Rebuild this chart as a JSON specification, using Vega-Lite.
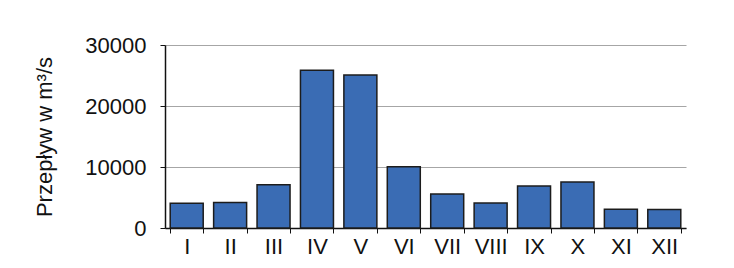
{
  "$schema": "https://vega.github.io/schema/vega-lite/v6.json",
  "width": 521,
  "height": 183,
  "autosize": {"type": "none"},
  "padding": {"left": 165, "top": 45, "right": 48, "bottom": 40},
  "background": "white",
  "config": {"view": {"stroke": null}, "font": "Liberation Sans"},
  "data": {"values": [
    {"m": "I", "v": 4050},
    {"m": "II", "v": 4200},
    {"m": "III", "v": 7100},
    {"m": "IV", "v": 25850},
    {"m": "V", "v": 25080},
    {"m": "VI", "v": 10050},
    {"m": "VII", "v": 5570},
    {"m": "VIII", "v": 4100},
    {"m": "IX", "v": 6900},
    {"m": "X", "v": 7540},
    {"m": "XI", "v": 3070},
    {"m": "XII", "v": 3020}
  ]},
  "mark": {"type": "bar", "fill": "#3a6cb4", "stroke": "#1c1c1c", "strokeWidth": 1.5},
  "encoding": {
    "x": {
      "field": "m", "type": "nominal", "sort": null,
      "scale": {"paddingInner": 0.24, "paddingOuter": 0.12},
      "axis": {
        "title": null, "labelAngle": 0, "labelFontSize": 22, "labelColor": "#111",
        "domainColor": "#111", "domainWidth": 1.5, "tickColor": "#111", "tickBand": "extent",
        "tickSize": 5, "labelPadding": 3, "grid": false
      }
    },
    "y": {
      "field": "v", "type": "quantitative",
      "scale": {"domain": [0, 30000]},
      "axis": {
        "title": "Przepływ w m³/s", "titleFontSize": 22, "titleFontWeight": "normal", "titleColor": "#111",
        "titlePadding": 28,
        "values": [0, 10000, 20000, 30000], "format": "d",
        "labelFontSize": 22, "labelColor": "#111", "labelPadding": 14,
        "domainColor": "#111", "domainWidth": 1.5, "tickColor": "#111", "tickSize": 5,
        "grid": true, "gridColor": "#a6a6a6", "gridWidth": 1.2
      }
    }
  }
}
